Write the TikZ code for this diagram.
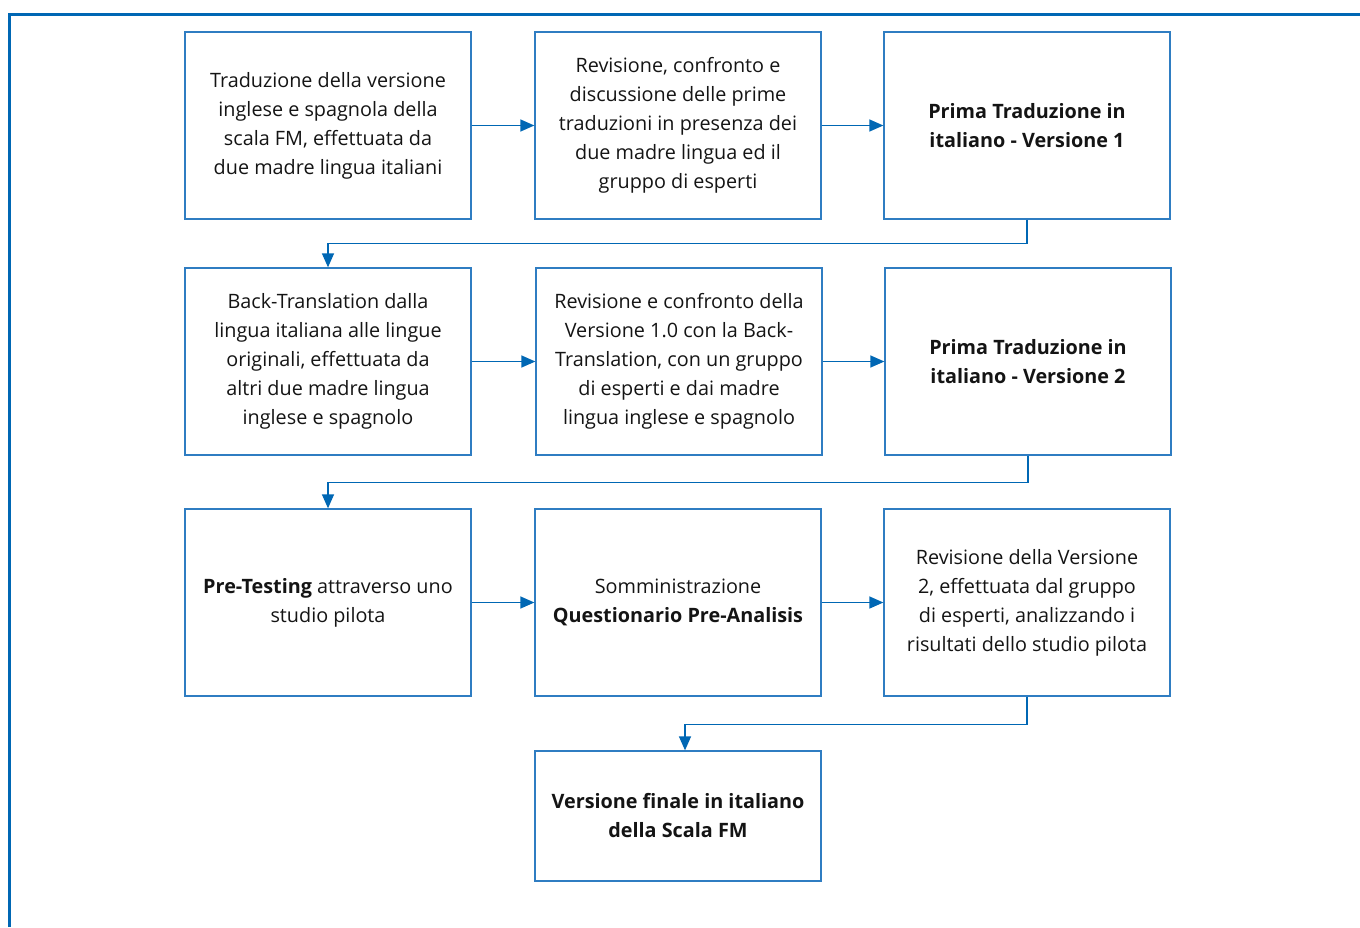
\documentclass[tikz,border=0pt]{standalone}
\usepackage{fontspec}
\setmainfont{Open Sans}
\usetikzlibrary{arrows.meta}
\definecolor{frameblue}{HTML}{0067B4}
\definecolor{boxblue}{HTML}{2F7DC2}
\definecolor{txt}{HTML}{141414}

\begin{document}
\begin{tikzpicture}[x=1pt, y=-1pt,
    stepbox/.style={rectangle, draw=boxblue, line width=1.3pt, minimum width=286pt,
        minimum height=187pt, align=center, text=txt, inner sep=0pt,
        font=\fontsize{19.8}{29}\selectfont},
    flow/.style={draw=frameblue, line width=1.4pt, -{Triangle[length=14pt, width=12pt]}}]
    \useasboundingbox (0,0) rectangle (1360,927);
    % frame
    \draw[frameblue, line width=3pt] (9.5,927) -- (9.5,14) -- (1360,14);

    % first row
    \node[stepbox] (a1) at (328,125.5) {Traduzione della versione\\ inglese e spagnola della\\ scala FM, effettuata da\\ due madre lingua italiani};
    \node[stepbox] (a2) at (678,125.5) {Revisione, confronto e\\ discussione delle prime\\ traduzioni in presenza dei\\ due madre lingua ed il\\ gruppo di esperti};
    \node[stepbox] (a3) at (1027,125.5) {\textbf{Prima Traduzione in}\\ \textbf{italiano - Versione 1}};

    % second row
    \node[stepbox] (b1) at (328,361.5) {Back-Translation dalla\\ lingua italiana alle lingue\\ originali, effettuata da\\ altri due madre lingua\\ inglese e spagnolo};
    \node[stepbox] (b2) at (679,361.5) {Revisione e confronto della\\ Versione 1.0 con la Back-\\ Translation, con un gruppo\\ di esperti e dai madre\\ lingua inglese e spagnolo};
    \node[stepbox] (b3) at (1028,361.5) {\textbf{Prima Traduzione in}\\ \textbf{italiano - Versione 2}};

    % third row
    \node[stepbox] (c1) at (328,602.5) {\textbf{Pre-Testing} attraverso uno\\ studio pilota};
    \node[stepbox] (c2) at (678,602.5) {Somministrazione\\ \textbf{Questionario Pre-Analisis}};
    \node[stepbox] (c3) at (1027,602.5) {Revisione della Versione\\ 2, effettuata dal gruppo\\ di esperti, analizzando i\\ risultati dello studio pilota};

    % last box
    \node[stepbox, minimum height=130pt] (d1) at (678,816) {\textbf{Versione finale in italiano}\\ \textbf{della Scala FM}};

    \foreach \r in {a,b,c} {
        \draw[flow] (\r1) -- (\r2);
        \draw[flow] (\r2) -- (\r3);
    }
    \draw[flow] (a3.south) -- ++(0,24) -| (b1.north);
    \draw[flow] (b3.south) -- ++(0,27) -| (c1.north);
    \draw[flow] (c3.south) -- ++(0,28) -| ([xshift=7pt]d1.north);
\end{tikzpicture}
\end{document}
